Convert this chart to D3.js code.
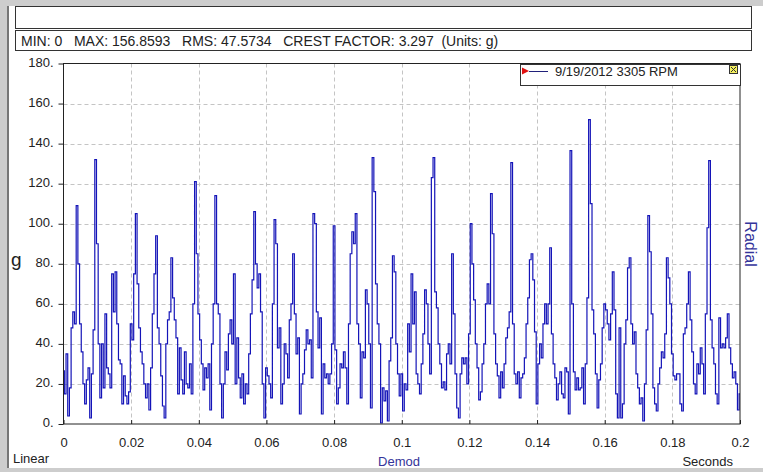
<!DOCTYPE html>
<html>
    <head>
        <title>Demod waveform</title>
        <script type="text/javascript" src="https://cdn.jsdelivr.net/npm/d3@7"></script>
        <style type="text/css">
            body { margin: 0; background: #cdcdcd; }
            text { font-family: "Liberation Sans", Arial, sans-serif; }
        </style>
    </head>
    <body>
        <script type="text/javascript">

            // waveform samples (g), one every 0.5 ms from 0 to 0.2 s
            var sampleStep = 0.0005;
            var amplitude = [
                26.5, 15, 35, 4, 18, 48, 56, 50, 109, 80, 50, 36, 20, 10, 22, 28, 3, 25, 47, 132,
                90, 40, 13, 40, 18, 55, 28, 25, 18, 75, 56, 76, 50, 32, 30, 10, 24, 14, 10, 16,
                50, 42, 75, 105, 70, 48, 36, 30, 20, 13, 20, 7, 28, 55, 75, 94, 48, 40, 24, 9,
                3, 40, 52, 56, 83, 63, 52, 43, 15, 38, 22, 15, 36, 20, 18, 30, 15, 60, 121, 85,
                55, 42, 30, 17, 28, 23, 30, 7, 40, 60, 114, 60, 55, 20, 3, 20, 36, 27, 45, 52,
                40, 75, 20, 43, 23, 13, 25, 10, 20, 15, 35, 55, 72, 106, 80, 68, 75, 56, 20, 3,
                28, 24, 20, 13, 60, 102, 90, 38, 48, 10, 20, 40, 35, 23, 52, 60, 85, 55, 35, 43,
                5, 20, 25, 37, 47, 40, 42, 23, 105, 100, 56, 38, 53, 5, 30, 23, 25, 20, 25, 40,
                99, 37, 10, 18, 30, 28, 36, 28, 10, 50, 85, 96, 90, 105, 50, 40, 13, 36, 33, 67,
                60, 40, 8, 133, 116, 70, 50, 40, 0.5, 18, 11.5, 16.5, 1.5, 31.5, 43, 84, 76, 40, 25, 14,
                25, 6.5, 20, 17, 50, 36, 75, 50, 66, 25, 20, 15, 30, 45, 67, 60, 40, 25, 123, 133,
                66, 58, 40, 30, 18, 21, 17, 35, 40, 30, 85, 55, 25, 8, 3, 25, 33, 30, 33, 20,
                45, 100, 80, 62, 40, 28, 12, 16, 30, 40, 60, 70, 60, 115, 95, 45, 30, 24, 13, 26,
                18, 30, 43, 48, 56, 130.5, 50, 25, 20, 26, 13, 23, 25, 33, 50, 63, 82, 85, 72, 46,
                10, 30, 40, 33, 50, 60, 50, 60, 88, 45, 30, 23, 12, 20, 26, 15, 13, 28, 26, 5,
                136.5, 60, 26, 17, 23, 17, 18, 28, 10, 30, 63, 152, 110, 57, 45, 25, 8, 22, 30, 48,
                60, 57, 50, 42, 55, 76, 57, 15, 3, 48, 3, 10, 40, 52, 78, 83, 50, 40, 46, 25,
                18, 10, 13, 1.5, 20, 47, 104, 86, 55, 18, 10, 6.5, 20, 28, 36, 33, 45, 83, 73, 60,
                35, 24, 22, 25, 25, 10, 6.5, 45, 48, 60, 76, 52, 36, 20, 15, 30, 25, 38, 30, 15,
                55, 98, 131.5, 52, 38, 30, 15, 10, 53, 38, 40, 38, 43, 55, 38, 30, 23, 26, 20, 7,
                15
            ];

            var yTicks = [0, 20, 40, 60, 80, 100, 120, 140, 160, 180];
            var xTicks = [0, 0.02, 0.04, 0.06, 0.08, 0.1, 0.12, 0.14, 0.16, 0.18, 0.2];
            var xTickLabels = ["0", "0.02", "0.04", "0.06", "0.08", "0.1", "0.12", "0.14", "0.16", "0.18", "0.2"];

            var statsText = "MIN: 0   MAX: 156.8593   RMS: 47.5734   CREST FACTOR: 3.297  (Units: g)";
            var legendLabel = "9/19/2012 3305 RPM";

            function makeChart() {
                var width = 763;
                var height = 472;
                var plot = {left: 63.5, right: 740, top: 63.5, bottom: 424};

                var svg = d3.select('body')
                    .append('svg')
                        .attr('width', width)
                        .attr('height', height)
                        .style('display', 'block');

                // window frame
                svg.append('rect')
                    .attr('width', width).attr('height', height)
                    .attr('fill', '#cdcdcd');
                svg.append('rect')
                    .attr('x', 9).attr('y', 6)
                    .attr('width', width - 9).attr('height', 462)
                    .attr('fill', '#ffffff');
                svg.append('line')
                    .attr('x1', 8).attr('x2', 8).attr('y1', 6).attr('y2', 468)
                    .attr('stroke', '#777').attr('stroke-width', 2);

                // title box + stats box
                svg.append('rect')
                    .attr('x', 15.5).attr('y', 6.5).attr('width', 736).attr('height', 22)
                    .attr('fill', '#fff').attr('stroke', '#333');
                svg.append('rect')
                    .attr('x', 15.5).attr('y', 30.5).attr('width', 736).attr('height', 20)
                    .attr('fill', '#fff').attr('stroke', '#333');
                svg.append('text')
                    .attr('x', 21).attr('y', 45.5)
                    .style('white-space', 'pre')
                    .attr('font-size', 14).attr('fill', '#222')
                    .text(statsText);

                var xScale = d3.scaleLinear()
                    .domain([0, 0.2])
                    .range([plot.left, plot.right]);

                var yScale = d3.scaleLinear()
                    .domain([0, 180])
                    .range([plot.bottom, plot.top]);

                // grid
                var grid = svg.append('g')
                    .attr('stroke', '#c4c4c4')
                    .attr('stroke-dasharray', '4,3');
                grid.selectAll('line.v')
                    .data(xTicks.slice(1, -1))
                    .enter()
                    .append('line')
                        .attr('x1', function(d) { return Math.round(xScale(d)) + 0.5; })
                        .attr('x2', function(d) { return Math.round(xScale(d)) + 0.5; })
                        .attr('y1', plot.top)
                        .attr('y2', plot.bottom);
                grid.selectAll('line.h')
                    .data(yTicks.slice(1, -1))
                    .enter()
                    .append('line')
                        .attr('y1', function(d) { return Math.round(yScale(d)) + 0.5; })
                        .attr('y2', function(d) { return Math.round(yScale(d)) + 0.5; })
                        .attr('x1', plot.left)
                        .attr('x2', plot.right);

                // waveform, sample-and-hold like the analyzer draws it
                var line = d3.line()
                    .curve(d3.curveStep)
                    .x(function(d, i) { return xScale(i * sampleStep); })
                    .y(function(d) { return yScale(d); });

                svg.append('path')
                    .datum(amplitude)
                    .attr('d', line)
                    .attr('fill', 'none')
                    .attr('stroke', '#1414b8')
                    .attr('stroke-width', 1.2);

                // plot frame
                svg.append('rect')
                    .attr('x', plot.left).attr('y', plot.top)
                    .attr('width', plot.right - plot.left)
                    .attr('height', plot.bottom - plot.top)
                    .attr('fill', 'none')
                    .attr('stroke', '#222');

                function yAxis(g) {
                    return g.attr('transform', 'translate(' + plot.left + ',0)')
                        .call(d3.axisLeft(yScale)
                            .tickValues(yTicks)
                            .tickFormat(function(d) { return d + '.'; })
                            .tickSize(5)
                            .tickPadding(5));
                }

                function xAxis(g) {
                    return g.attr('transform', 'translate(0,' + plot.bottom + ')')
                        .call(d3.axisBottom(xScale)
                            .tickValues(xTicks)
                            .tickFormat(function(d, i) { return xTickLabels[i]; })
                            .tickSizeInner(-4)
                            .tickSizeOuter(0)
                            .tickPadding(14));
                }

                var ya = svg.append('g').call(yAxis);
                var xa = svg.append('g').call(xAxis);
                [ya, xa].forEach(function(a) {
                    a.select('.domain').remove();
                    a.selectAll('line').attr('stroke', '#222');
                    a.selectAll('text')
                        .attr('font-family', '"Liberation Sans", Arial, sans-serif')
                        .attr('font-size', 13)
                        .attr('fill', '#222');
                });
                ya.selectAll('text').attr('dy', '0.2em');

                // axis captions
                svg.append('text')
                    .attr('x', 11).attr('y', 266)
                    .attr('font-size', 19).attr('fill', '#222')
                    .text('g');
                svg.append('text')
                    .attr('x', 13).attr('y', 463)
                    .attr('font-size', 13).attr('fill', '#222')
                    .text('Linear');
                svg.append('text')
                    .attr('x', 399).attr('y', 466)
                    .attr('text-anchor', 'middle')
                    .attr('font-size', 13).attr('fill', '#34349a')
                    .text('Demod');
                svg.append('text')
                    .attr('x', 733).attr('y', 466)
                    .attr('text-anchor', 'end')
                    .attr('font-size', 13).attr('fill', '#222')
                    .text('Seconds');
                svg.append('text')
                    .attr('transform', 'translate(745,244) rotate(90)')
                    .attr('text-anchor', 'middle')
                    .attr('font-size', 16).attr('fill', '#34349a')
                    .text('Radial');

                // legend
                var legend = svg.append('g');
                legend.append('rect')
                    .attr('x', 520.5).attr('y', 64.5).attr('width', 220).attr('height', 21)
                    .attr('fill', '#fff').attr('stroke', '#333');
                legend.append('path')
                    .attr('d', 'M522,67.5 L529,71 L522,74.5 Z')
                    .attr('fill', '#e01010');
                legend.append('line')
                    .attr('x1', 529).attr('x2', 548).attr('y1', 71.5).attr('y2', 71.5)
                    .attr('stroke', '#20207a');
                legend.append('text')
                    .attr('x', 555).attr('y', 76)
                    .attr('font-size', 13).attr('fill', '#222')
                    .text(legendLabel);
                legend.append('rect')
                    .attr('x', 729.5).attr('y', 65.5).attr('width', 8).attr('height', 8)
                    .attr('fill', '#f4f060').attr('stroke', '#333');
                legend.append('path')
                    .attr('d', 'M731,67 L736,72 M736,67 L731,72')
                    .attr('stroke', '#333');
            }

            makeChart();

        </script>
    </body>
</html>
